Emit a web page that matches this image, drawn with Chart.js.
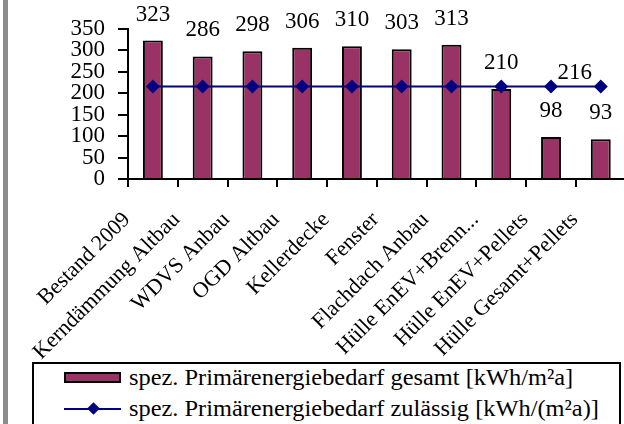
<!DOCTYPE html>
<html>
<head>
<meta charset="utf-8">
<script src="https://cdn.jsdelivr.net/npm/chart.js@4"></script>
<style>
    html, body { margin: 0; padding: 0; background: #fff; overflow: hidden; }
    body { width: 624px; height: 424px; position: relative; }
    #strip { position: absolute; left: 3px; top: 0; width: 5px; height: 424px; background: #8c8c8c; }
    #chartBox { position: absolute; left: 0; top: 0; }
    #legend {
        position: absolute; left: 32px; top: 362px; width: 589px; height: 80px;
        border: 2px solid #000; box-sizing: border-box; background: #fff;
        font-family: "Liberation Serif", "Times New Roman", serif; font-size: 23px; color: #000;
    }
    .row { position: absolute; left: 0; height: 24px; line-height: 24px; white-space: nowrap; }
    .row span { position: absolute; left: 95px; transform: scaleX(1.06); transform-origin: 0 50%; }
    .swatch { position: absolute; left: 30px; top: 6px; width: 57px; height: 11px; background: #993366; border: 2px solid #000; box-sizing: border-box; }
    .lineKey { position: absolute; left: 30px; top: 11px; width: 57px; height: 2px; background: #000080; }
    .diamond { position: absolute; left: 55px; top: 7px; width: 9px; height: 9px; background: #000080; transform: rotate(45deg); }
</style>
</head>
<body>
<div id="chartBox"><canvas id="chart" width="640" height="360"></canvas></div>
<div id="strip"></div>
<div id="legend">
    <div class="row" style="top: 2px;"><div class="swatch"></div><span>spez. Primärenergiebedarf gesamt [kWh/m²a]</span></div>
    <div class="row" style="top: 33px;"><div class="lineKey"></div><div class="diamond"></div><span>spez. Primärenergiebedarf zulässig [kWh/(m²a)]</span></div>
</div>
<script>
// ── Data ──
const categories = ["Bestand 2009", "Kerndämmung Altbau", "WDVS Anbau", "OGD Altbau", "Kellerdecke",
    "Fenster", "Flachdach Anbau", "Hülle EnEV+Brenn...", "Hülle EnEV+Pellets", "Hülle Gesamt+Pellets"];
const gesamt = [323, 286, 298, 306, 310, 303, 313, 210, 98, 93];
const zulaessig = [216, 216, 216, 216, 216, 216, 216, 216, 216, 216];
const yTicks = [0, 50, 100, 150, 200, 250, 300, 350];
const lineLabelIndex = 9;

const FONT = "'Liberation Serif', 'Times New Roman', serif";

// ── Value labels ──
const valueLabels = {
    id: "valueLabels",
    afterDatasetsDraw(chart) {
        const ctx = chart.ctx;
        ctx.save();
        ctx.fillStyle = "#000";
        ctx.font = "23px " + FONT;
        ctx.textAlign = "center";
        ctx.textBaseline = "middle";
        const bars = chart.getDatasetMeta(1).data;
        bars.forEach(function (b, i) {
            ctx.fillText(String(gesamt[i]), b.x, b.y - 26);
        });
        const p = chart.getDatasetMeta(0).data[lineLabelIndex];
        ctx.fillText(String(zulaessig[lineLabelIndex]), p.x - 26, p.y - 13);
        ctx.restore();
    }
};

new Chart(document.getElementById("chart"), {
    data: {
        labels: categories,
        datasets: [
            {
                type: "line",
                label: "spez. Primärenergiebedarf zulässig [kWh/(m²a)]",
                data: zulaessig,
                borderColor: "#000080",
                backgroundColor: "#000080",
                borderWidth: 2,
                pointStyle: "rectRot",
                pointRadius: 7,
                pointBorderWidth: 0,
                order: 0
            },
            {
                type: "bar",
                label: "spez. Primärenergiebedarf gesamt [kWh/m²a]",
                data: gesamt,
                backgroundColor: "#993366",
                borderColor: "#000",
                borderWidth: 2,
                barPercentage: 0.4,
                categoryPercentage: 1,
                order: 1
            }
        ]
    },
    options: {
        responsive: false,
        animation: false,
        layout: { padding: { top: 29, right: 11, left: 0, bottom: 0 } },
        scales: {
            x: {
                offset: true,
                afterFit: function (s) { s.height = 181; },
                border: { display: true, color: "#000", width: 2 },
                grid: { display: true, drawOnChartArea: false, drawTicks: true, tickLength: 8, color: "#000", lineWidth: 2, offset: true },
                ticks: {
                    color: "#000",
                    font: { family: FONT, size: 22 },
                    maxRotation: 45, minRotation: 45,
                    autoSkip: false,
                    padding: 20,
                    labelOffset: -26
                }
            },
            y: {
                min: 0, max: 350,
                afterFit: function (s) { s.width = 128; },
                afterBuildTicks: function (s) { s.ticks = yTicks.map(function (v) { return { value: v }; }); },
                border: { display: true, color: "#000", width: 2 },
                grid: { display: true, drawOnChartArea: false, drawTicks: true, tickLength: 10, color: "#000", lineWidth: 2 },
                ticks: {
                    color: "#000",
                    font: { family: FONT, size: 23 },
                    autoSkip: false,
                    stepSize: 50,
                    padding: 13
                }
            }
        },
        plugins: {
            legend: { display: false },
            tooltip: { enabled: false }
        }
    },
    plugins: [valueLabels]
});
</script>
</body>
</html>
